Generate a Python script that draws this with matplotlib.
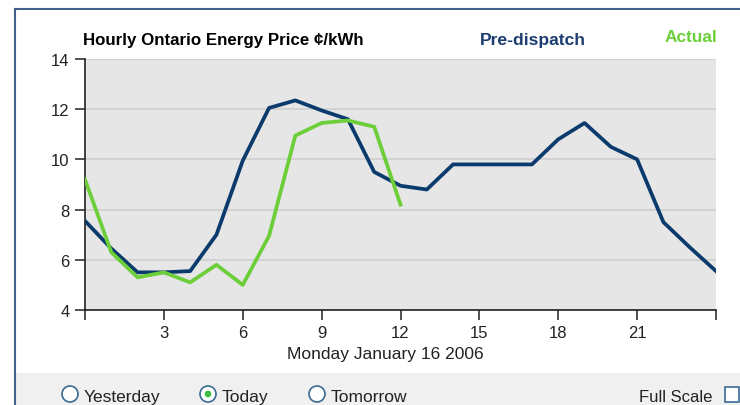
import matplotlib
matplotlib.use("Agg")
import matplotlib.pyplot as plt
from matplotlib.patches import Circle, Rectangle

# Hourly prices, cents/kWh
hours = list(range(0, 25))
predispatch = [7.55, 6.45, 5.5, 5.5, 5.55, 7.0, 9.95, 12.05, 12.35, 11.95, 11.6,
               9.5, 8.95, 8.8, 9.8, 9.8, 9.8, 9.8, 10.8, 11.45, 10.5, 10.0,
               7.5, 6.5, 5.55]
actual_hours = list(range(0, 13))
actual = [9.2, 6.3, 5.3, 5.5, 5.1, 5.8, 5.0, 6.95, 10.95, 11.45, 11.55, 11.3, 8.2]

x_ticks = [0, 3, 6, 9, 12, 15, 18, 21, 24]
x_labels = ["", "3", "6", "9", "12", "15", "18", "21", ""]
y_ticks = [4, 6, 8, 10, 12, 14]

blue = "#0b3a6c"
green = "#6ccf3a"
W, H = 740, 406

plt.rcParams["font.family"] = ["Liberation Sans", "DejaVu Sans"]

fig = plt.figure(figsize=(W / 100, H / 100), dpi=100)
fig.patch.set_facecolor("white")

# overlay in pixel coordinates for the page furniture
bg = fig.add_axes([0, 0, 1, 1])
bg.set_xlim(0, W)
bg.set_ylim(H, 0)
bg.axis("off")
bg.add_patch(Rectangle((15, 374), W, 40, facecolor="#f0f0f0", edgecolor="none"))
bg.plot([14.5, 14.5], [10, H], color="#41618c", lw=1.5)
bg.plot([14.5, W], [10, 10], color="#41618c", lw=1.5)

bg.text(83, 41, "Hourly Ontario Energy Price \u00a2/kWh", fontsize=12.2,
        fontweight="bold", color="black", va="center", ha="left")
bg.text(480, 40, "Pre-dispatch", fontsize=12.6, fontweight="bold", color="#1c3d70",
        va="center", ha="left")
bg.text(717, 37, "Actual", fontsize=12.4, fontweight="bold", color=green,
        va="center", ha="right")

# radio buttons
radios = [(70, "Yesterday", False), (208, "Today", True), (317, "Tomorrow", False)]
for cx, label, checked in radios:
    bg.add_patch(Circle((cx, 395), 8, facecolor="white", edgecolor="#3b6a97", lw=1.2))
    if checked:
        bg.add_patch(Circle((cx, 395), 3.3, facecolor="#3cbf3c", edgecolor="none"))
    bg.text(cx + 13.5, 397.5, label, fontsize=12.5, color="#222222", va="center", ha="left")
bg.text(712, 397.5, "Full Scale", fontsize=12, color="#222222", va="center", ha="right")
bg.add_patch(Rectangle((725, 388), 14, 15, facecolor="white", edgecolor="#3b6a97", lw=1.2))

# main chart
ax = fig.add_axes([85 / W, 1 - 311 / H, (716 - 85) / W, (311 - 60) / H])
ax.set_facecolor("#e6e6e6")
ax.plot(hours, predispatch, color=blue, lw=2.7, solid_joinstyle="round", zorder=3)
ax.plot(actual_hours, actual, color=green, lw=2.7, solid_joinstyle="round", zorder=3)

ax.set_xlim(0, 24)
ax.set_ylim(4, 14)
ax.set_xticks(x_ticks)
ax.set_xticklabels(x_labels)
ax.set_yticks(y_ticks)
ax.yaxis.grid(True, color="#cfcfcf", lw=1.2)
ax.set_axisbelow(True)
for s in ["top", "right"]:
    ax.spines[s].set_visible(False)
for s in ["left", "bottom"]:
    ax.spines[s].set_color("#222222")
    ax.spines[s].set_linewidth(1.2)
ax.tick_params(axis="both", direction="out", length=7, width=1.1, color="#222222",
               labelsize=12, labelcolor="#222222", pad=4)
ax.set_xlabel("Monday January 16 2006", fontsize=12.5, color="#222222", labelpad=4)
ax.xaxis.set_label_coords((385 - 85) / (716 - 85), -0.142)

fig.savefig("out.png", dpi=100)
